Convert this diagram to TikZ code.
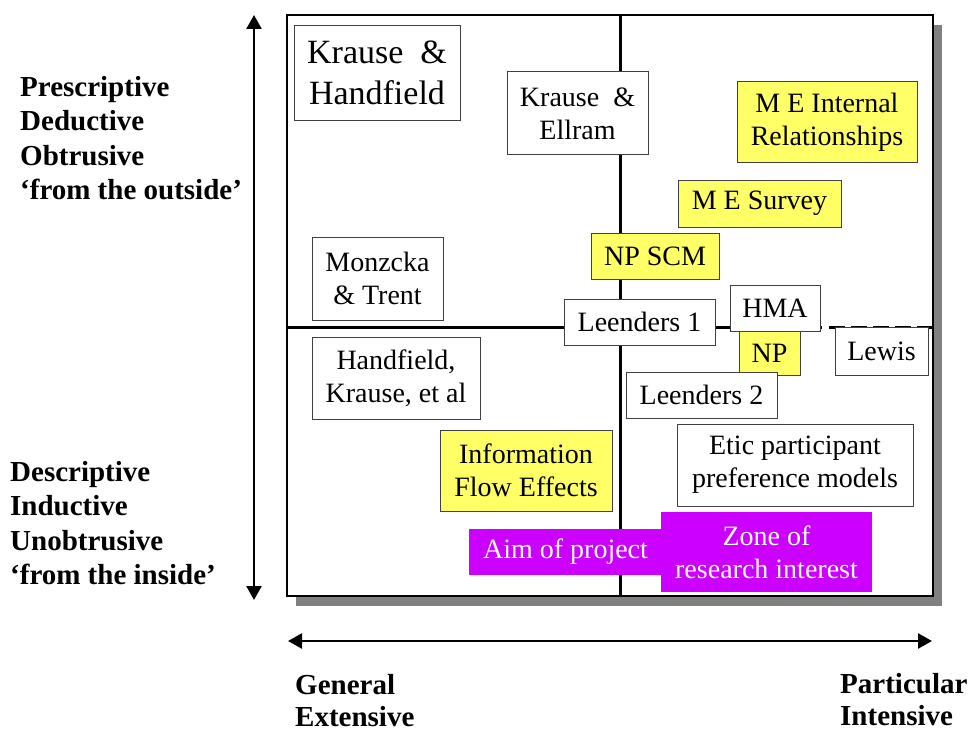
\documentclass[tikz,border=0pt]{standalone}
\usepackage{fontspec}
\setmainfont{Liberation Serif}
\usetikzlibrary{arrows.meta}
\definecolor{boxyellow}{RGB}{255,255,102}
\definecolor{aimmag}{RGB}{204,0,255}
\definecolor{shadowgray}{RGB}{128,128,128}
\tikzset{
  wbox/.style={draw=black!75, line width=1pt, fill=white, inner sep=0pt, align=center,
    font=\fontsize{28}{33}\selectfont},
  ybox/.style={wbox, fill=boxyellow},
  mbox/.style={fill=aimmag, draw=none, inner sep=0pt, align=center, text=white,
    font=\fontsize{28}{33}\selectfont},
  axlabel/.style={anchor=base west, inner sep=0pt, align=left,
    font=\fontsize{29}{34.5}\selectfont\bfseries},
  axarrow/.style={line width=2.5pt, {Triangle[length=14pt,width=15pt]}-{Triangle[length=14pt,width=15pt]}},
  divider/.style={line width=3pt}
}
\begin{document}
\begin{tikzpicture}[x=1pt,y=-1pt]
\useasboundingbox (0,0) rectangle (969,733);
% shadow and frame
\fill[shadowgray] (296,25) rectangle (942,606);
\draw[line width=2pt, fill=white] (287,15) rectangle (933,596);
% dividers
\draw[divider] (620,15) -- (620,596);
\draw[divider] (287,327) -- (822,327);
\draw[divider, dash pattern=on 16pt off 6pt] (829,327) -- (933,327);
% boxes
\node[wbox, minimum width=166pt, minimum height=95pt, font=\fontsize{34}{41}\selectfont] (kh) at (377,73) {Krause~~\&\\Handfield};
\node[wbox, minimum width=141pt, minimum height=83pt] (ke) at (577.5,113.5) {Krause~~\&\\Ellram};
\node[ybox, minimum width=180pt, minimum height=80pt] (mei) at (827,122) {M E Internal\\Relationships};
\node[ybox, minimum width=163pt, minimum height=47pt] (mes) at (759.5,203.5) {M E Survey};
\node[ybox, minimum width=128pt, minimum height=46pt] (npscm) at (655,256) {NP SCM};
\node[wbox, minimum width=131pt, minimum height=83pt] (mt) at (377.5,278.5) {Monzcka\\\&~Trent};
\node[wbox, minimum width=151pt, minimum height=46pt] (l1) at (639.5,322) {Leenders 1};
\node[ybox, minimum width=61pt, minimum height=44pt] (np) at (769.5,353) {NP};
\node[wbox, minimum width=90pt, minimum height=46pt] (hma) at (775,308) {HMA};
\node[wbox, minimum width=93pt, minimum height=48pt] (lewis) at (881.5,351) {Lewis};
\node[wbox, minimum width=151pt, minimum height=46pt] (l2) at (701.5,395) {Leenders 2};
\node[wbox, minimum width=168pt, minimum height=82pt] (hke) at (396,378) {Handfield,\\Krause, et al};
\node[ybox, minimum width=172pt, minimum height=81pt] (ife) at (526,470.5) {Information\\Flow Effects};
\node[wbox, minimum width=236pt, minimum height=82pt] (etic) at (795,465) {Etic participant\\preference models};
\node[mbox, minimum width=193pt, minimum height=46pt] (aim) at (565.5,552) {Aim of project};
\node[mbox, minimum width=211pt, minimum height=80pt] (zone) at (766.5,552) {Zone of\\research interest};
% axes
\coordinate (vtop) at (254,15);
\coordinate (vbot) at (254,600);
\coordinate (hl) at (288,641);
\coordinate (hr) at (932,641);
\draw[axarrow] (vtop) -- (vbot);
\draw[axarrow] (hl) -- (hr);
% axis labels (anchor = baseline of last line)
\node[axlabel] (top) at (20,199.5) {Prescriptive\\Deductive\\Obtrusive\\`from the outside'};
\node[axlabel] (bot) at (10,584.5) {Descriptive\\Inductive\\Unobtrusive\\`from the inside'};
\node[axlabel, font=\fontsize{29}{32}\selectfont\bfseries] (gen) at (295,726) {General\\Extensive};
\node[axlabel, font=\fontsize{29}{32}\selectfont\bfseries] (part) at (840,725) {Particular\\Intensive};
\end{tikzpicture}
\end{document}
